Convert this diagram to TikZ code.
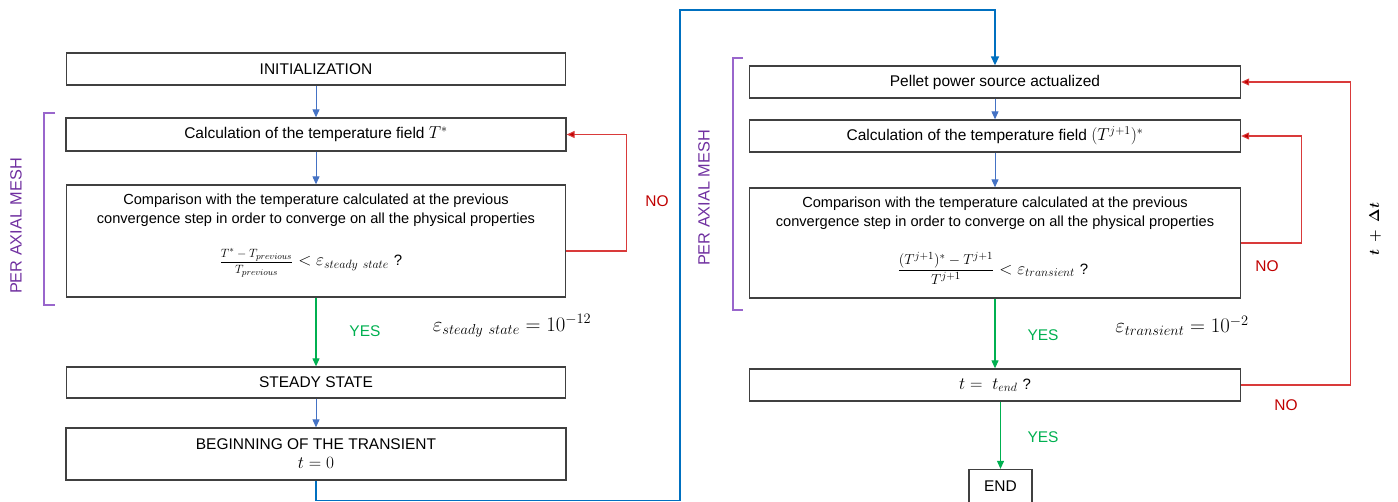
\documentclass[tikz,border=0pt]{standalone}
\usepackage{fontspec}
\usepackage{bm}
\usepackage{amsmath}
\setmainfont{Liberation Sans}
\usetikzlibrary{arrows.meta}
\definecolor{ablue}{HTML}{4472C4}
\definecolor{dblue}{HTML}{0070C0}
\definecolor{agreen}{HTML}{00B050}
\definecolor{ared}{HTML}{C00000}
\definecolor{lred}{HTML}{D93A3A}
\definecolor{apurple}{HTML}{7030A0}
\definecolor{lpurple}{HTML}{9966CC}
\begin{document}
\begin{tikzpicture}[x=1pt,y=-1pt,
  box/.style={draw=black!75, line width=1.3pt, rectangle, inner sep=0pt, align=center,
    font=\fontsize{15.5}{19}\selectfont},
  txt/.style={inner sep=0pt, align=center, font=\fontsize{14.6}{18.5}\selectfont},
  frm/.style={inner sep=0pt, font=\fontsize{18}{20}\selectfont},
  barr/.style={draw=ablue, line width=1pt, -{Triangle[length=8pt,width=7pt]}},
  darr/.style={draw=dblue, line width=1.5pt, -{Triangle[length=9pt,width=8pt]}},
  garr/.style={draw=agreen, line width=1.1pt, -{Triangle[length=8pt,width=7pt]}},
  rarr/.style={draw=lred, line width=1.1pt, -{Triangle[length=8pt,width=7pt,fill=ared]}},
  yes/.style={text=agreen, font=\fontsize{15.5}{18}\selectfont},
  no/.style={text=ared, font=\fontsize{15.5}{18}\selectfont},
  mesh/.style={text=apurple, rotate=90, font=\fontsize{16.3}{20}\selectfont},
  brk/.style={draw=lpurple, line width=1.2pt},
  eq/.style={font=\fontsize{21}{24}\selectfont}
]
\useasboundingbox (0,0) rectangle (1398,502);

% ---------- left column ----------
\node[box, minimum width=499pt, minimum height=32pt] (init) at (316,69) {INITIALIZATION};
\node[box, minimum width=500pt, minimum height=33pt] (calc1) at (316,134.5) {Calculation of the temperature field {\fontsize{17}{19}\selectfont$T^*$}};
\node[box, minimum width=499pt, minimum height=112pt] (comp1) at (316,241) {};
\node[txt] (comp1t) at (316,210) {Comparison with the temperature calculated at the previous\\convergence step in order to converge on all the physical properties};
\node[frm] (comp1f) at (311,263) {{\fontsize{13}{15}\selectfont$\dfrac{T^*-T_{previous}}{T_{previous}}$} $< \varepsilon_{steady\ state}$ {\fontsize{15}{18}\selectfont ?}};
\node[box, minimum width=499pt, minimum height=31pt] (steady) at (316,382.5) {STEADY STATE};
\node[box, minimum width=500pt, minimum height=52pt] (begin) at (316,454) {BEGINNING OF THE TRANSIENT\\{\fontsize{17}{19}\selectfont$t=0$}};

\draw[barr] (init) -- (calc1);
\draw[barr] (calc1) -- (comp1);
\draw[garr] (comp1) -- (steady);
\draw[barr] (steady) -- (begin);
\draw[rarr] ([yshift=-10pt]comp1.east) -- ++(60,0) |- (calc1.east);

\node[no] (no1) at (657,201) {NO};
\node[yes] (yes1) at (365,331) {YES};
\node[eq] (eps1) at (512,326) {$\varepsilon_{steady\ state} = 10^{-12}$};

\draw[brk] (55,113) coordinate (bl1) -- (44,113) -- (44,305) -- (55,305) coordinate (bl2);
\node[mesh] (mesh1) at (16,226) {PER AXIAL MESH};

% ---------- right column ----------
\node[box, minimum width=491pt, minimum height=32pt] (pellet) at (995,82) {Pellet power source actualized};
\node[box, minimum width=491pt, minimum height=32pt] (calc2) at (995,136) {Calculation of the temperature field {\fontsize{17}{19}\selectfont$(T^{j+1})^*$}};
\node[box, minimum width=491pt, minimum height=110pt] (comp2) at (995,243) {};
\node[txt] (comp2t) at (995,213) {Comparison with the temperature calculated at the previous\\convergence step in order to converge on all the physical properties};
\node[frm] (comp2f) at (993,268) {{\fontsize{15.5}{17}\selectfont$\dfrac{(T^{j+1})^*-T^{j+1}}{T^{j+1}}$} $< \varepsilon_{transient}$ {\fontsize{15}{18}\selectfont ?}};
\node[box, minimum width=491pt, minimum height=32pt, font=\fontsize{18}{20}\selectfont] (tend) at (995,385) {$t=\ t_{end}$ {\fontsize{15}{18}\selectfont ?}};
\node[box, minimum width=63pt, minimum height=33pt] (endn) at (1000.5,486) {END};

\coordinate (c1) at (680,10);
\draw[darr] (begin.south) -- ++(0,20) -| (c1) -| (pellet.north);
\draw[barr] (pellet) -- (calc2);
\draw[barr] (calc2) -- (comp2);
\draw[garr] (comp2) -- (tend);
\draw[garr] (tend.south -| endn.north) -- (endn.north);
\draw[rarr] (comp2.east) -- ++(60,0) |- (calc2.east);
\draw[rarr] (tend.east) -- ++(109,0) |- (pellet.east);

\node[no] (no2) at (1267,266) {NO};
\node[no] (no3) at (1286,405) {NO};
\node[yes] (yes2) at (1043,335) {YES};
\node[yes] (yes3) at (1043,437) {YES};
\node[eq] (eps2) at (1182,326) {$\varepsilon_{transient} = 10^{-2}$};
\node[rotate=90, font=\fontsize{14}{18}\selectfont] (dt) at (1375,229) {$\bm{t\ +\ \Delta t}$};

\draw[brk] (743,58) coordinate (br1) -- (733,58) -- (733,310) -- (743,310) coordinate (br2);
\node[mesh] (mesh2) at (704,198) {PER AXIAL MESH};
\end{tikzpicture}
\end{document}
